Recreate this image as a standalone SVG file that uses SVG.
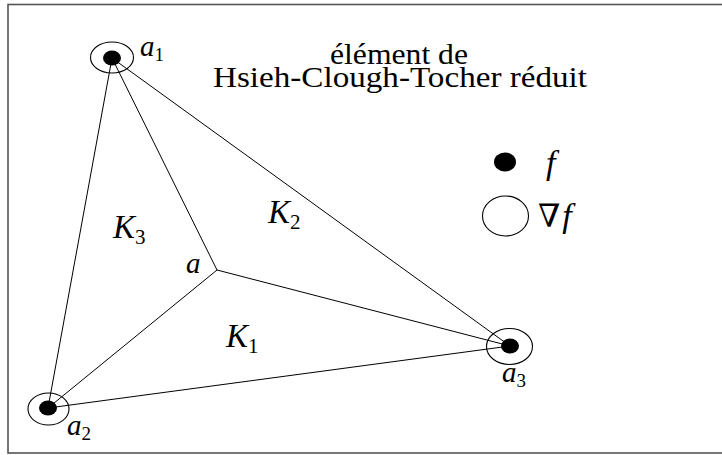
<svg xmlns="http://www.w3.org/2000/svg" width="722" height="455" viewBox="0 0 722 455">
<style>
.edge{stroke:#000;stroke-width:1;fill:none}
.ring{fill:none;stroke:#000;stroke-width:1.1}
.dot{fill:#000}
.t{font-family:"Liberation Serif","DejaVu Serif",serif;fill:#000}
.m{font-family:"Liberation Serif","DejaVu Serif",serif;font-style:italic;fill:#000}
.sub{font-style:normal}
</style>
<rect x="8" y="4.5" width="720" height="448.5" fill="#fff" stroke="#555" stroke-width="1.6"/>
<g id="connectors">
<line class="edge" x1="112" y1="58" x2="48" y2="408"/>
<line class="edge" x1="112" y1="58" x2="510" y2="346"/>
<line class="edge" x1="48" y1="408" x2="510" y2="346"/>
<line class="edge" x1="217" y1="270" x2="112" y2="58"/>
<line class="edge" x1="217" y1="270" x2="48" y2="408"/>
<line class="edge" x1="217" y1="270" x2="510" y2="346"/>
</g>
<g id="a1">
<ellipse class="ring" cx="112" cy="57.5" rx="21.5" ry="15.5"/>
<ellipse class="dot" cx="112" cy="58" rx="9" ry="7.5"/>
<text class="m" x="140" y="56" font-size="29">a<tspan class="sub" font-size="19" dy="5">1</tspan></text>
</g>
<g id="a2">
<ellipse class="ring" cx="48.5" cy="409" rx="20.5" ry="16"/>
<ellipse class="dot" cx="48" cy="408" rx="9" ry="7.5"/>
<text class="m" x="67" y="435" font-size="29">a<tspan class="sub" font-size="19" dy="5">2</tspan></text>
</g>
<g id="a3">
<ellipse class="ring" cx="509.5" cy="346.5" rx="23" ry="18"/>
<ellipse class="dot" cx="510" cy="346" rx="9" ry="7.5"/>
<text class="m" x="502" y="382" font-size="29">a<tspan class="sub" font-size="19" dy="5">3</tspan></text>
</g>
<g id="center">
<text class="m" x="186" y="273" font-size="29">a</text>
</g>
<g id="K1"><text class="m" x="226" y="347" font-size="33">K<tspan class="sub" font-size="21" dy="6">1</tspan></text></g>
<g id="K2"><text class="m" x="268" y="223" font-size="33">K<tspan class="sub" font-size="21" dy="6">2</tspan></text></g>
<g id="K3"><text class="m" x="113" y="238" font-size="33">K<tspan class="sub" font-size="21" dy="6">3</tspan></text></g>
<g id="title">
<text class="t" x="399" y="64" font-size="29" text-anchor="middle" textLength="138" lengthAdjust="spacingAndGlyphs">élément de</text>
<text class="t" x="400" y="87" font-size="29" text-anchor="middle" textLength="374" lengthAdjust="spacingAndGlyphs">Hsieh-Clough-Tocher réduit</text>
</g>
<g id="legend">
<ellipse class="dot" cx="505" cy="162" rx="11" ry="9.5"/>
<text class="m" x="546" y="174" font-size="34">f</text>
<ellipse class="ring" cx="505.5" cy="216" rx="23" ry="20"/>
<text x="538" y="227" font-size="32" font-family="'DejaVu Serif',serif" fill="#000">∇<tspan font-family="'Liberation Serif',serif" font-style="italic" font-size="34" dx="2">f</tspan></text>
</g>
</svg>
